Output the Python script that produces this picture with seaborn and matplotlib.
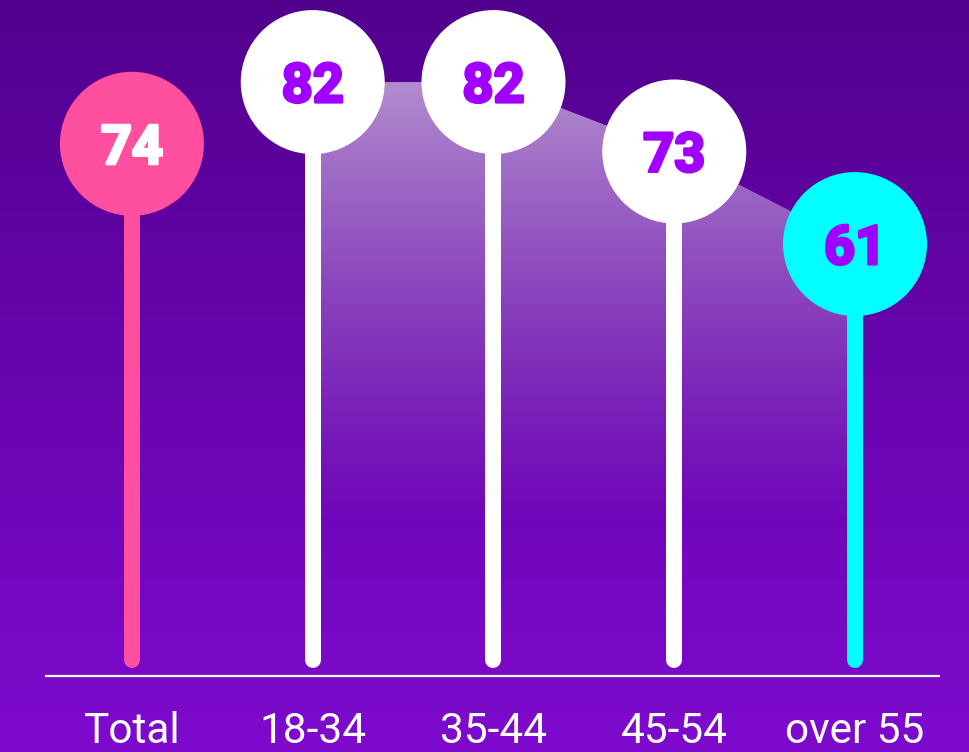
import numpy as np
import pandas as pd
import matplotlib
matplotlib.use("Agg")
import matplotlib.pyplot as plt
import matplotlib.patheffects as pe
import seaborn as sns

# Share of respondents by age group
categories = ["Total", "18-34", "35-44", "45-54", "over 55"]
values = [74, 82, 82, 73, 61]
dot_colors = ["#FF4F9E", "#FFFFFF", "#FFFFFF", "#FFFFFF", "#00FFFF"]
label_colors = ["#FFFFFF", "#A000FF", "#A000FF", "#A000FF", "#A000FF"]

sns.set_theme(style="white")
plt.rcParams["font.family"] = ["Roboto", "DejaVu Sans"]

df = pd.DataFrame({
    "group": categories,
    "pos": np.arange(len(categories)),
    "value": values,
})

fig = plt.figure(figsize=(9.7, 7.52), dpi=100)
ax = fig.add_axes([0, 0, 1, 1])
xlim = (-0.730, 4.636)
ylim = (-4.85, 92.64)
ax.set_xlim(*xlim)
ax.set_ylim(*ylim)
ax.axis("off")

# vertical purple background gradient
top = np.array([82, 0, 142]) / 255
bottom = np.array([126, 10, 206]) / 255
t = np.linspace(0, 1, 256)[:, None]
bg = top[None, :] * (1 - t) + bottom[None, :] * t
bg = np.repeat(bg[:, None, :], 4, axis=1)
ax.imshow(bg, extent=(*xlim, ylim[0], ylim[1]), origin="upper",
          aspect="auto", zorder=0, interpolation="bilinear")

# translucent trend area behind the age groups, fading downward
area_x = df["pos"].iloc[1:].to_numpy()
area_y = df["value"].iloc[1:].to_numpy()
poly = ax.fill_between(area_x, area_y, 7, facecolor="none", edgecolor="none", zorder=1)
yy = np.linspace(ylim[1], ylim[0], 400)
alpha = np.clip((yy - 24) / (82 - 24), 0, 1) ** 1.2 * 0.55
grad = np.zeros((400, 2, 4))
grad[..., :3] = 1.0
grad[..., 3] = alpha[:, None]
im = ax.imshow(grad, extent=(*xlim, ylim[0], ylim[1]), origin="upper",
               aspect="auto", zorder=1, interpolation="bilinear")
im.set_clip_path(poly.get_paths()[0], transform=ax.transData)

# baseline
ax.plot([-0.481, 4.470], [5.0, 5.0], color="white", lw=1.6, zorder=2,
        solid_capstyle="butt")

# stems
for p, v, c in zip(df["pos"], df["value"], dot_colors):
    ax.plot([p, p], [7.1, v], color=c, lw=11.5, solid_capstyle="round", zorder=3)

# heads
sns.scatterplot(data=df, x="pos", y="value", hue="group",
                palette=dict(zip(categories, dot_colors)), s=10750,
                linewidth=0, legend=False, ax=ax, zorder=4)
ax.set_xlim(*xlim)
ax.set_ylim(*ylim)
ax.axis("off")

# value labels (heavy digits)
for p, v, c in zip(df["pos"], df["value"], label_colors):
    ax.text(p, v, f"{v}", color=c, ha="center", va="center_baseline",
            fontsize=39, fontweight="bold", zorder=5,
            path_effects=[pe.withStroke(linewidth=2.2, foreground=c)])

# category labels
for p, name in zip(df["pos"], df["group"]):
    ax.text(p, -2.2, name, color="white", ha="center", va="center",
            fontsize=30.5, fontweight="normal", zorder=5)

fig.savefig("out.png", dpi=100)
